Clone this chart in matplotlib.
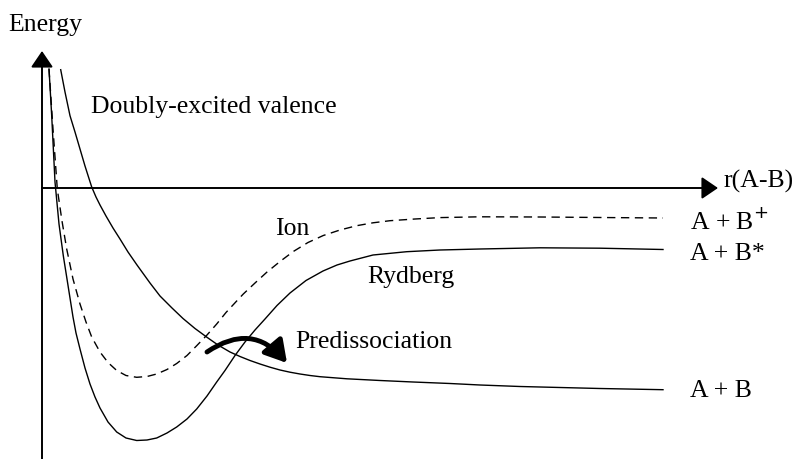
import matplotlib.pyplot as plt
from matplotlib.patches import FancyArrowPatch

plt.rcParams['font.family'] = ['Liberation Serif', 'DejaVu Serif']

# potential curves, sampled in image pixel units (x right, y down)
valence_x = [60.7, 65, 70, 75, 80, 85, 91.7, 96, 100, 106, 113, 120, 128, 137, 150, 160, 172,
             183, 195, 207, 218, 230, 240, 250, 260, 270, 280, 290, 300, 310, 320, 347, 380,
             413, 450, 480, 520, 560, 600, 663]
valence_y = [70.7, 93, 116.7, 133, 150, 167, 188, 198, 206, 217, 229, 240, 253, 266, 284, 297, 309,
             319.5, 329.5, 338.3, 346, 353, 357.5, 361.5, 365, 368.2, 371, 373.2, 375, 376.5, 377.7,
             379.8, 381.5, 383, 384.5, 386, 387.5, 388.5, 389.5, 390.7]

rydberg_x = [49, 51.7, 55, 59, 63.3, 67, 70, 73, 76, 80, 85, 90, 95, 100, 108, 116.7, 126, 136.7,
             147, 156.7, 167, 176.7, 187, 196.7, 207, 216.7, 225, 235, 245, 255, 265, 277, 290,
             306, 323, 337, 350, 373, 406.7, 440, 480, 540, 600, 663]
rydberg_y = [70, 116.7, 183, 225, 256.7, 280, 299, 318, 334, 350, 369, 385, 398, 409, 423, 433, 439,
             441.5, 441, 439, 434, 428, 420, 410, 397, 383, 371.5, 356.5, 343, 331, 320, 306.5, 294,
             281.5, 272, 266, 262, 256, 252.7, 251, 250, 248.8, 249.2, 250.5]

ion_x = [49, 53, 57.3, 62, 66.7, 73, 80, 86, 91.7, 100, 108, 116.7, 126, 136.7, 147, 156.7,
         167, 176.7, 187, 196.7, 207, 216.7, 226, 236.7, 243.3, 255, 266.7, 280, 293.3, 308,
         323.3, 340, 356.7, 373, 390, 415, 440, 480, 540, 600, 663]
ion_y = [70, 130, 190, 222, 250, 280, 305, 323, 338, 353, 363.5, 371.5, 376.5, 378.3, 377.5, 375,
         370.5, 364.5, 356.5, 346.7, 336, 325, 313.5, 302, 295, 284, 273.3, 262.5, 252.5, 243.5,
         236.5, 231, 226.7, 223.8, 221.7, 220, 218.6, 217.8, 218, 218.5, 219]

# axes origin/ends and the predissociation hop
origin = (42, 189)
energy_top = (42, 52)
energy_bottom = (42, 460)
r_end = (718, 189)
hop_start = (207, 353)
hop_end = (287, 364)

fig = plt.figure(figsize=(7.96, 4.6), dpi=100)
ax = fig.add_axes([0, 0, 1, 1])
ax.set_xlim(0, 796)
ax.set_ylim(460, 0)
ax.axis('off')

# axes with arrow heads
ax.add_patch(FancyArrowPatch(energy_bottom, energy_top, arrowstyle='-|>,head_length=0.5,head_width=0.34',
                             mutation_scale=20, lw=1.4, color='black', shrinkA=0, shrinkB=0))
ax.add_patch(FancyArrowPatch(origin, r_end, arrowstyle='-|>,head_length=0.5,head_width=0.34',
                             mutation_scale=20, lw=1.4, color='black', shrinkA=0, shrinkB=0))

ax.plot(valence_x, valence_y, color='black', lw=1.0, solid_joinstyle='round')
ax.plot(rydberg_x, rydberg_y, color='black', lw=1.0, solid_joinstyle='round')
ax.plot(ion_x, ion_y, color='black', lw=1.0, dashes=(6, 4))

ax.add_patch(FancyArrowPatch(hop_start, hop_end, connectionstyle='arc3,rad=-0.45',
                             arrowstyle='-|>,head_length=0.65,head_width=0.38',
                             mutation_scale=20, lw=3.5, color='black', shrinkA=0, shrinkB=0))

fs = 18.5
ax.text(8, 31, 'Energy', fontsize=fs, va='baseline')
ax.text(91, 113, 'Doubly-excited valence', fontsize=fs, va='baseline')
ax.text(275, 235, 'Ion', fontsize=fs, va='baseline')
ax.text(367, 283, 'Rydberg', fontsize=fs, va='baseline')
ax.text(295, 348, 'Predissociation', fontsize=fs, va='baseline')
ax.text(723, 188, 'r(A-B)', fontsize=fs, va='baseline')
ax.text(690, 230, 'A + B$^{+}$', fontsize=fs, va='baseline')
ax.text(690, 260, 'A + B*', fontsize=fs, va='baseline')
ax.text(690, 397, 'A + B', fontsize=fs, va='baseline')

fig.savefig('out.png', dpi=100)
